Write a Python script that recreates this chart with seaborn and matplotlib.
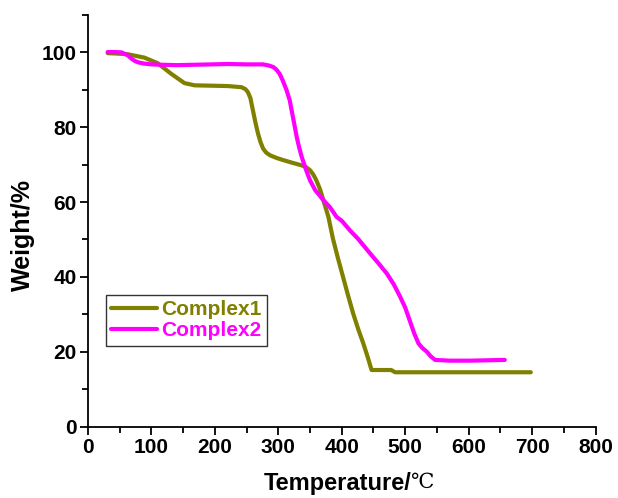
import numpy as np
import pandas as pd
import matplotlib
matplotlib.use("Agg")
import matplotlib.pyplot as plt
from matplotlib.ticker import MultipleLocator
import seaborn as sns

# Thermogravimetric curves (temperature in °C, residual weight in %)
complex1_temp = [31, 45, 63, 89, 110, 131, 152, 168, 195, 221, 242, 248, 252, 256, 260,
                 264, 268, 272, 276, 281, 287, 297, 308, 322, 337, 344, 350, 355, 360,
                 366, 371, 379, 386, 394, 402, 410, 418, 426, 434, 441, 447, 462, 478,
                 484, 540, 600, 650, 698]
complex1_weight = [99.8, 99.7, 99.5, 98.6, 97.1, 94.3, 91.8, 91.2, 91.1, 91.0, 90.7, 90.2,
                   89.4, 87.8, 84.5, 81.2, 78.3, 76.0, 74.3, 73.2, 72.5, 71.8, 71.2, 70.5,
                   69.8, 69.3, 68.5, 67.4, 65.8, 63.3, 60.5, 56.0, 50.3, 45.0, 40.0, 35.0,
                   30.2, 26.0, 22.2, 18.5, 15.1, 15.1, 15.1, 14.5, 14.5, 14.5, 14.5, 14.5]

complex2_temp = [31, 42, 53, 63, 68, 74, 80, 89, 100, 116, 140, 168, 195, 221, 250, 276,
                 285, 292, 297, 302, 307, 313, 318, 321, 325, 329, 333, 337, 341, 345,
                 350, 354, 358, 364, 371, 381, 392, 400, 408, 413, 425, 445, 458, 471,
                 482, 492, 500, 507, 514, 521, 527, 534, 540, 547, 570, 602, 630, 657]
complex2_weight = [100.1, 100.1, 100.0, 99.2, 98.4, 97.7, 97.3, 97.0, 96.8, 96.7, 96.6,
                   96.7, 96.8, 96.9, 96.8, 96.8, 96.5, 96.1, 95.4, 94.3, 92.5, 89.9, 87.2,
                   84.5, 81.0, 77.4, 74.5, 72.0, 70.0, 68.0, 65.8, 64.5, 63.2, 62.0, 60.5,
                   58.7, 56.0, 55.0, 53.4, 52.4, 50.3, 46.2, 43.6, 40.9, 38.0, 34.7, 31.8,
                   28.4, 25.0, 22.2, 21.0, 20.0, 18.8, 17.8, 17.6, 17.6, 17.7, 17.8]

series_names = ["Complex1", "Complex2"]
series_colors = ["#808000", "#ff00ff"]

df = pd.concat([
    pd.DataFrame({"Temperature": complex1_temp, "Weight": complex1_weight, "Sample": series_names[0]}),
    pd.DataFrame({"Temperature": complex2_temp, "Weight": complex2_weight, "Sample": series_names[1]}),
], ignore_index=True)

sns.set_theme(style="ticks")
plt.rcParams["font.family"] = ["Liberation Sans", "DejaVu Sans"]
plt.rcParams["font.weight"] = "bold"
for key in ["text.color", "axes.labelcolor", "xtick.color", "ytick.color",
            "axes.edgecolor"]:
    plt.rcParams[key] = "black"

fig = plt.figure(figsize=(6.18, 4.98), dpi=100)
ax = fig.add_axes([88 / 618, 1 - 426.5 / 498, (595.5 - 88) / 618, (426.5 - 15) / 498])

sns.lineplot(data=df, x="Temperature", y="Weight", hue="Sample",
             palette=dict(zip(series_names, series_colors)),
             estimator=None, sort=True, linewidth=3.0, ax=ax)
for line in ax.get_lines():
    line.set_solid_joinstyle("round")
    line.set_solid_capstyle("round")

ax.set_xlim(0, 800)
ax.set_ylim(0, 110)
ax.xaxis.set_major_locator(MultipleLocator(100))
ax.xaxis.set_minor_locator(MultipleLocator(50))
ax.yaxis.set_minor_locator(MultipleLocator(10))
ax.set_yticks(np.arange(0, 101, 20))

for side in ["top", "right"]:
    ax.spines[side].set_visible(False)
for side in ["left", "bottom"]:
    ax.spines[side].set_linewidth(1.3)
    ax.spines[side].set_color("black")

ax.tick_params(which="major", direction="out", length=6, width=1.3, color="black",
               labelcolor="black", labelsize=15, pad=2)
ax.tick_params(which="minor", direction="out", length=4, width=1.3, color="black")
for lbl in ax.get_xticklabels() + ax.get_yticklabels():
    lbl.set_fontweight("bold")

ax.set_xlabel("")
ax.set_ylabel("")

# x-axis title: sans-serif text followed by a serif degree-Celsius sign
fig.text(412 / 618, 1 - 483 / 498, "Temperature/", ha="right", va="center",
         fontsize=17, fontweight="bold", color="black")
fig.text(410 / 618, 1 - 483 / 498, "\u2103", ha="left", va="center",
         fontsize=15, fontweight="normal", color="black",
         family=["Liberation Serif", "DejaVu Serif"])
fig.text(23 / 618, 1 - 235 / 498, "Weight/%", ha="center", va="center",
         rotation=90, fontsize=18, fontweight="bold", color="black")

handles, labels = ax.get_legend_handles_labels()
if ax.legend_:
    ax.legend_.remove()
leg = fig.legend(handles, labels, loc="upper left",
                 bbox_to_anchor=(106 / 618, 1 - 295 / 498),
                 frameon=True, fancybox=False, edgecolor="black",
                 fontsize=15, handlelength=2.2, handletextpad=0.2,
                 borderpad=0.25, labelspacing=0.1, borderaxespad=0)
leg.get_frame().set_linewidth(1.0)
for txt, col in zip(leg.get_texts(), series_colors):
    txt.set_color(col)
    txt.set_fontweight("bold")
for h in leg.get_lines():
    h.set_linewidth(3.0)

fig.savefig("out.png", dpi=100)
